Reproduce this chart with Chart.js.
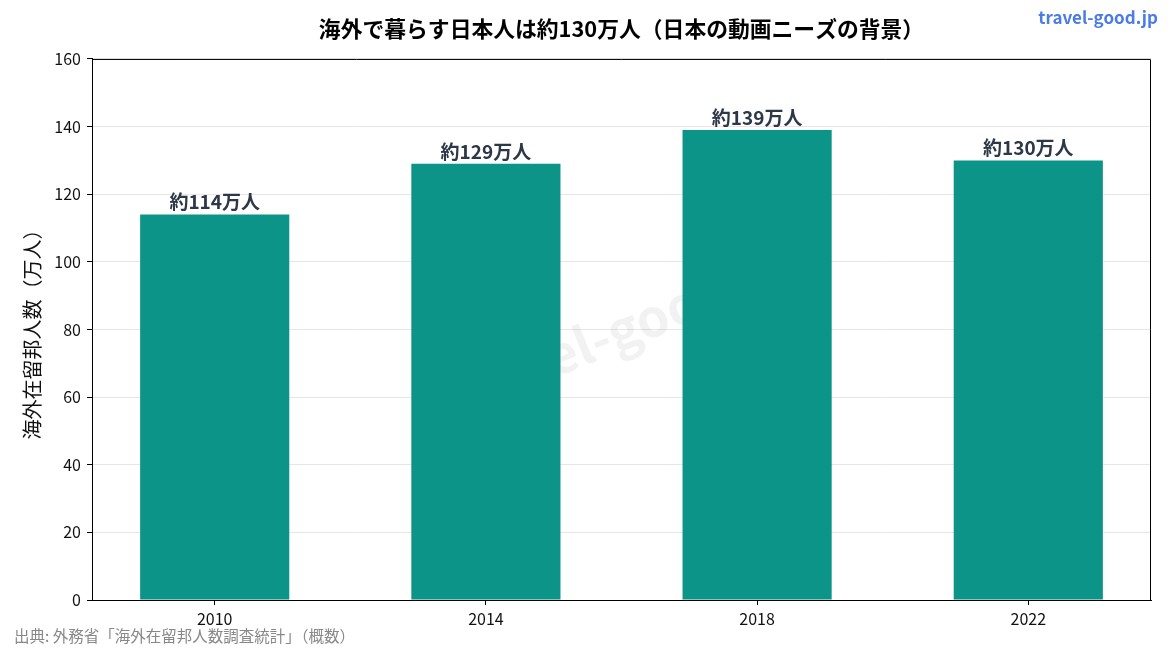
<!DOCTYPE html>
<html>
<head>
<meta charset="utf-8">
<script src="https://cdn.jsdelivr.net/npm/chart.js@4"></script>
<style>
	html, body { margin: 0; padding: 0; background: #fff; }
	#wrap { width: 1170px; height: 650px; position: relative; }
</style>
</head>
<body>
<div id="wrap"><canvas id="chart" width="1170" height="650"></canvas></div>
<script>
const years = ['2010', '2014', '2018', '2022'];
const residents = [114, 129, 139, 130];
const barLabels = ['約114万人', '約129万人', '約139万人', '約130万人'];
const yTicks = [0, 20, 40, 60, 80, 100, 120, 140, 160];

const FONT = "'Noto Sans CJK JP', 'Noto Sans', sans-serif";
const barColor = '#0d9488';

// watermark + frame + value labels + footer texts
const decorPlugin = {
	id: 'decor',
	beforeDatasetsDraw(chart) {
		const { ctx, chartArea } = chart;
		ctx.save();
		ctx.translate((chartArea.left + chartArea.right) / 2, (chartArea.top + chartArea.bottom) / 2);
		ctx.rotate(-22 * Math.PI / 180);
		ctx.font = 'bold 52px ' + FONT;
		ctx.fillStyle = 'rgba(150, 150, 150, 0.12)';
		ctx.textAlign = 'center';
		ctx.textBaseline = 'middle';
		ctx.fillText('travel-good.jp', 0, 0);
		ctx.restore();
	},
	afterDatasetsDraw(chart) {
		const { ctx, chartArea } = chart;
		ctx.save();
		ctx.strokeStyle = '#000';
		ctx.lineWidth = 1;
		ctx.beginPath();
		ctx.moveTo(chartArea.left, chartArea.top + 0.5);
		ctx.lineTo(chartArea.right - 0.5, chartArea.top + 0.5);
		ctx.lineTo(chartArea.right - 0.5, chartArea.bottom);
		ctx.stroke();

		const meta = chart.getDatasetMeta(0);
		ctx.font = 'bold 19px ' + FONT;
		ctx.fillStyle = '#2d3748';
		ctx.textAlign = 'center';
		ctx.textBaseline = 'bottom';
		meta.data.forEach((bar, i) => {
			ctx.fillText(barLabels[i], bar.x, bar.y - 3);
		});

		ctx.font = '15.5px ' + FONT;
		ctx.fillStyle = '#888';
		ctx.textAlign = 'left';
		ctx.textBaseline = 'middle';
		ctx.fillText('出典: 外務省「海外在留邦人数調査統計」（概数）', 14, 636);

		ctx.font = 'bold 17px ' + FONT;
		ctx.fillStyle = '#4a7be8';
		ctx.textAlign = 'right';
		ctx.fillText('travel-good.jp', 1158, 18);
		ctx.restore();
	}
};

new Chart(document.getElementById('chart'), {
	type: 'bar',
	data: {
		datasets: [{
			data: residents.map((v, i) => ({ x: i, y: v })),
			backgroundColor: barColor,
			borderWidth: 0,
			categoryPercentage: 1,
			barPercentage: 0.55,
		}]
	},
	options: {
		responsive: false,
		animation: false,
		layout: { padding: { left: 0, right: 19, top: 0, bottom: 0 } },
		plugins: {
			legend: { display: false },
			tooltip: { enabled: false },
			title: {
				display: true,
				fullSize: false,
				text: '海外で暮らす日本人は約130万人（日本の動画ニーズの背景）',
				color: '#000',
				font: { family: FONT, size: 21.8, weight: 'bold', lineHeight: 1.2 },
				padding: { top: 16, bottom: 16.8 },
			},
		},
		scales: {
			x: {
				type: 'linear',
				min: -0.4525,
				max: 3.4525,
				offset: false,
				afterBuildTicks: (axis) => { axis.ticks = years.map((_, i) => ({ value: i })); },
				afterFit: (axis) => { axis.height = 50; },
				ticks: {
					callback: (v) => years[v],
					color: '#111',
					font: { family: FONT, size: 16 },
					padding: 4,
					maxRotation: 0,
				},
				grid: { offset: false, drawOnChartArea: false, drawTicks: true, tickLength: 5, tickColor: '#000' },
				border: { display: true, color: '#000', width: 1 },
			},
			y: {
				min: 0,
				max: 160,
				afterBuildTicks: (axis) => { axis.ticks = yTicks.map(v => ({ value: v })); },
				afterFit: (axis) => { axis.width = 92; },
				ticks: {
					color: '#111',
					font: { family: FONT, size: 16 },
					padding: 6,
				},
				grid: { color: '#e6e6e6', lineWidth: 1, tickLength: 5, tickColor: '#000' },
				border: { display: true, color: '#000', width: 1 },
				title: {
					display: true,
					text: '海外在留邦人数（万人）',
					color: '#111',
					font: { family: FONT, size: 20 },
					padding: { top: 20, bottom: 4 },
				},
			}
		}
	},
	plugins: [decorPlugin]
});
</script>
</body>
</html>
